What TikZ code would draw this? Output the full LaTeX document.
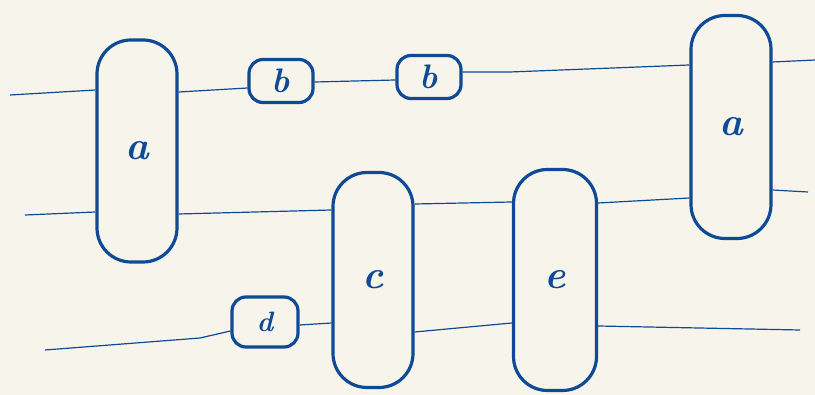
\documentclass[tikz,border=0pt]{standalone}
\begin{document}
\begin{tikzpicture}[x=1pt,y=-1pt,
  ink/.style={color={rgb,255:red,14;green,74;blue,150}},
  tensor/.style={ink, draw, line width=3.2pt, rounded corners=34pt, inner sep=0pt, minimum width=80pt, font=\fontsize{40}{40}\selectfont\bfseries\itshape},
  small/.style={ink, draw, line width=3.2pt, rounded corners=14pt, inner sep=0pt, minimum width=64pt, minimum height=43pt, font=\fontsize{34}{34}\selectfont\bfseries\itshape},
  wire/.style={ink, line width=1.2pt}]
\fill[color={rgb,255:red,247;green,245;blue,235}] (0,0) rectangle (815,395);
\useasboundingbox (0,0) rectangle (815,395);
% tensors
\node[tensor, minimum height=222pt] (a1) at (137,151) {a};
\node[tensor, minimum height=223pt] (a2) at (731,127) {a};
\node[tensor, minimum height=215pt] (c) at (373,280) {c};
\node[tensor, minimum height=221pt, minimum width=83pt] (e) at (555,280) {e};
\node[small] (b1) at (281,81) {b};
\node[small] (b2) at (429,77) {b};
\node[small, minimum width=66pt, minimum height=50pt, font=\fontsize{28}{28}\selectfont\bfseries\itshape] (d) at (265,322) {d};
% free ends
\coordinate (t0) at (10,95);
\coordinate (t1) at (815,60);
\coordinate (s0) at (25,215);
\coordinate (s1) at (808,192);
\coordinate (u0) at (45,350);
\coordinate (um) at (200,338);
\coordinate (u1) at (800,330);
\coordinate (bm) at (510,72);
% top wire
\draw[wire] (t0) -- ([yshift=61pt]a1.west);
\draw[wire] ([yshift=59pt]a1.east) -- ([yshift=-7pt]b1.west);
\draw[wire] ([yshift=-1pt]b1.east) -- ([yshift=-3pt]b2.west);
\draw[wire] ([yshift=5pt]b2.east) -- (bm) -- ([yshift=62pt]a2.west);
\draw[wire] ([yshift=65pt]a2.east) -- (t1);
% second wire
\draw[wire] (s0) -- ([yshift=-61pt]a1.west);
\draw[wire] ([yshift=-63pt]a1.east) -- ([yshift=70pt]c.west);
\draw[wire] ([yshift=76pt]c.east) -- ([yshift=78pt]e.west);
\draw[wire] ([yshift=77pt]e.east) -- ([yshift=-71pt]a2.west);
\draw[wire] ([yshift=-63pt]a2.east) -- (s1);
% third wire
\draw[wire] (u0) -- (um) -- ([yshift=-9pt]d.west);
\draw[wire] ([yshift=-3pt]d.east) -- ([yshift=-43pt]c.west);
\draw[wire] ([yshift=-52pt]c.east) -- ([yshift=-43pt]e.west);
\draw[wire] ([yshift=-46pt]e.east) -- (u1);
\end{tikzpicture}
\end{document}
